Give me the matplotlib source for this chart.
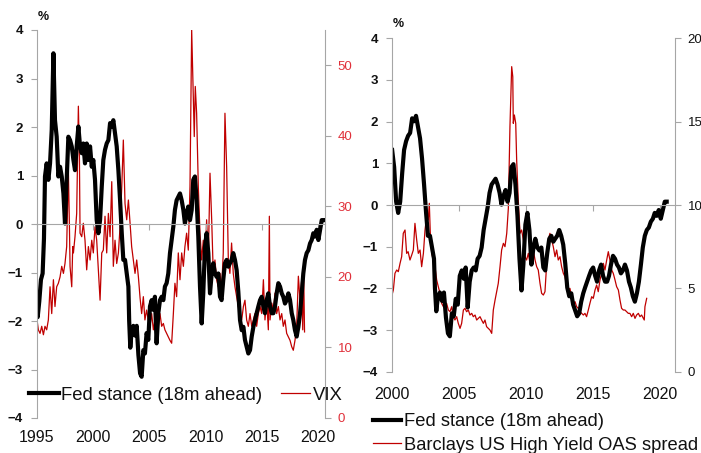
import matplotlib
matplotlib.use("Agg")
import matplotlib.pyplot as plt

plt.rcParams["font.family"] = ["Liberation Sans", "DejaVu Sans"]

# Fed stance (18m ahead), % -- shared by both panels
fed_years = [
    1995.00, 1995.06, 1995.20, 1995.35, 1995.50, 1995.62, 1995.71, 1995.86, 1996.01, 1996.16,
    1996.31, 1996.46, 1996.60, 1996.75, 1996.90, 1997.05, 1997.20, 1997.35, 1997.49, 1997.64,
    1997.79, 1997.94, 1998.09, 1998.24, 1998.38, 1998.53, 1998.68, 1998.83, 1998.98, 1999.12,
    1999.27, 1999.42, 1999.57, 1999.72, 1999.87, 2000.01, 2000.16, 2000.31, 2000.46, 2000.61,
    2000.76, 2000.90, 2001.05, 2001.20, 2001.35, 2001.50, 2001.65, 2001.79, 2001.94, 2002.09,
    2002.24, 2002.39, 2002.54, 2002.68, 2002.83, 2002.98, 2003.13, 2003.20, 2003.30, 2003.42,
    2003.57, 2003.72, 2003.87, 2004.02, 2004.17, 2004.31, 2004.46, 2004.60, 2004.75, 2004.90,
    2005.05, 2005.20, 2005.35, 2005.49, 2005.64, 2005.79, 2005.94, 2006.09, 2006.24, 2006.38,
    2006.53, 2006.68, 2006.83, 2006.98, 2007.13, 2007.27, 2007.42, 2007.57, 2007.72, 2007.87,
    2008.02, 2008.16, 2008.31, 2008.46, 2008.61, 2008.76, 2008.90, 2009.05, 2009.20, 2009.35,
    2009.50, 2009.65, 2009.79, 2009.94, 2010.09, 2010.24, 2010.39, 2010.54, 2010.68, 2010.83,
    2010.98, 2011.13, 2011.28, 2011.42, 2011.57, 2011.72, 2011.87, 2012.02, 2012.16, 2012.31,
    2012.46, 2012.61, 2012.76, 2012.91, 2013.06, 2013.21, 2013.36, 2013.50, 2013.65, 2013.80,
    2013.95, 2014.10, 2014.25, 2014.39, 2014.54, 2014.69, 2014.84, 2014.99, 2015.14, 2015.28,
    2015.43, 2015.58, 2015.73, 2015.88, 2016.03, 2016.17, 2016.32, 2016.47, 2016.62, 2016.77,
    2016.91, 2017.06, 2017.21, 2017.36, 2017.51, 2017.66, 2017.80, 2017.95, 2018.10, 2018.25,
    2018.40, 2018.55, 2018.69, 2018.84, 2018.99, 2019.14, 2019.29, 2019.44, 2019.58, 2019.73,
    2019.88, 2020.03, 2020.18, 2020.33, 2020.47,
]
fed_vals = [
    -1.50, -1.92, -1.60, -1.15, -1.02, -0.30, 0.98, 1.25, 0.91, 1.25,
    1.94, 3.52, 2.14, 1.80, 0.98, 1.18, 0.98, 0.63, 0.01, 0.91,
    1.80, 1.73, 1.60, 1.32, 1.11, 1.60, 2.01, 1.60, 1.46, 1.66,
    1.25, 1.66, 1.32, 1.60, 1.18, 1.32, 0.91, 0.08, -0.19, 0.08,
    0.77, 1.32, 1.53, 1.66, 1.73, 2.08, 2.01, 2.14, 1.87, 1.60,
    1.11, 0.49, -0.19, -0.74, -0.74, -1.02, -1.29, -2.00, -2.55, -2.20,
    -2.10, -2.30, -2.10, -2.70, -3.08, -3.15, -2.60, -2.67, -2.25, -2.39,
    -1.70, -1.57, -1.77, -1.50, -2.46, -1.84, -1.57, -1.50, -1.57, -1.29,
    -1.22, -1.02, -0.60, -0.33, -0.05, 0.29, 0.49, 0.56, 0.63, 0.49,
    0.29, 0.01, 0.22, 0.36, 0.08, 0.29, 0.91, 0.98, 0.49, -0.26,
    -1.29, -2.05, -1.43, -0.47, -0.19, -0.60, -1.43, -1.02, -0.81, -1.02,
    -1.09, -1.02, -1.50, -1.57, -1.15, -0.81, -0.74, -0.88, -0.81, -0.74,
    -0.60, -0.74, -0.95, -1.40, -1.98, -2.19, -2.12, -2.39, -2.53, -2.67,
    -2.60, -2.32, -2.12, -1.98, -1.84, -1.70, -1.57, -1.50, -1.70, -1.84,
    -1.57, -1.43, -1.70, -1.84, -1.84, -1.70, -1.43, -1.22, -1.29, -1.43,
    -1.50, -1.64, -1.57, -1.43, -1.57, -1.84, -1.98, -2.19, -2.32, -2.12,
    -1.84, -1.43, -1.02, -0.74, -0.60, -0.54, -0.40, -0.33, -0.19, -0.26,
    -0.12, -0.33, -0.12, 0.08, 0.08,
]

# VIX (right axis, left panel)
vix_years = [
    1995.00, 1995.12, 1995.27, 1995.42, 1995.57, 1995.71, 1995.86, 1996.01, 1996.16, 1996.31,
    1996.46, 1996.60, 1996.75, 1996.90, 1997.05, 1997.20, 1997.35, 1997.49, 1997.64, 1997.79,
    1997.88, 1997.94, 1998.09, 1998.18, 1998.24, 1998.38, 1998.53, 1998.68, 1998.77, 1998.83,
    1998.98, 1999.12, 1999.27, 1999.42, 1999.57, 1999.72, 1999.87, 2000.01, 2000.16, 2000.31,
    2000.46, 2000.61, 2000.76, 2000.90, 2001.05, 2001.20, 2001.35, 2001.50, 2001.65, 2001.79,
    2001.94, 2002.09, 2002.24, 2002.39, 2002.54, 2002.68, 2002.83, 2002.98, 2003.13, 2003.28,
    2003.42, 2003.57, 2003.72, 2003.87, 2004.02, 2004.17, 2004.31, 2004.46, 2004.60, 2004.75,
    2004.90, 2005.05, 2005.20, 2005.35, 2005.49, 2005.64, 2005.79, 2005.94, 2006.09, 2006.24,
    2006.38, 2006.53, 2006.68, 2006.83, 2006.98, 2007.13, 2007.27, 2007.42, 2007.57, 2007.72,
    2007.87, 2008.02, 2008.16, 2008.31, 2008.46, 2008.61, 2008.76, 2008.90, 2008.99, 2009.08,
    2009.20, 2009.35, 2009.50, 2009.65, 2009.79, 2009.94, 2010.09, 2010.24, 2010.39, 2010.54,
    2010.68, 2010.83, 2010.98, 2011.13, 2011.28, 2011.42, 2011.57, 2011.72, 2011.87, 2012.02,
    2012.16, 2012.31, 2012.46, 2012.61, 2012.76, 2012.91, 2013.06, 2013.21, 2013.36, 2013.50,
    2013.65, 2013.80, 2013.95, 2014.10, 2014.25, 2014.39, 2014.54, 2014.69, 2014.84, 2014.99,
    2015.14, 2015.28, 2015.43, 2015.58, 2015.67, 2015.73, 2015.88, 2016.03, 2016.17, 2016.32,
    2016.47, 2016.62, 2016.77, 2016.91, 2017.06, 2017.21, 2017.36, 2017.51, 2017.66, 2017.80,
    2017.95, 2018.10, 2018.25, 2018.40, 2018.55, 2018.64, 2018.72, 2018.80,
]
vix_vals = [
    13.9, 12.5, 12.0, 13.0, 11.8, 13.0, 12.5, 13.9, 18.6, 14.8,
    19.6, 15.8, 18.6, 19.1, 20.0, 21.5, 20.5, 21.9, 24.3, 35.2,
    27.6, 21.5, 18.6, 24.3, 23.4, 25.7, 29.0, 44.2, 37.5, 26.2,
    25.7, 27.6, 25.2, 21.0, 24.3, 22.4, 25.2, 23.4, 27.1, 25.2,
    21.0, 16.7, 23.4, 23.8, 28.6, 23.4, 29.0, 25.7, 33.5, 21.5,
    25.2, 21.9, 23.4, 27.1, 32.8, 39.4, 30.4, 28.1, 30.9, 27.6,
    24.3, 22.4, 20.5, 22.4, 20.0, 17.0, 14.8, 17.2, 13.9, 15.3,
    13.9, 13.0, 14.8, 12.5, 13.9, 12.0, 13.0, 14.8, 13.0, 13.4,
    12.5, 12.0, 11.5, 11.0, 10.6, 14.8, 19.1, 17.2, 23.4, 19.6,
    23.4, 21.5, 24.3, 26.2, 23.8, 32.8, 55.0, 46.1, 39.9, 47.0,
    43.2, 32.8, 26.2, 22.4, 25.2, 21.5, 28.1, 22.4, 34.7, 28.1,
    20.5, 22.4, 19.6, 18.6, 20.5, 18.1, 23.4, 43.2, 35.6, 22.4,
    20.5, 24.8, 20.5, 18.6, 17.2, 15.8, 14.8, 13.9, 15.8, 16.7,
    13.9, 13.0, 14.8, 13.0, 13.9, 14.8, 13.0, 14.8, 15.8, 14.8,
    19.6, 13.9, 16.7, 12.5, 28.6, 13.9, 16.3, 15.3, 17.7, 14.8,
    15.8, 13.9, 14.8, 13.0, 13.9, 12.0, 11.5, 11.0, 10.1, 9.6,
    11.0, 13.0, 20.1, 16.7, 19.6, 12.5, 21.0, 12.2,
]

# Barclays US High Yield OAS spread (right axis, right panel)
hy_years = [
    2000.00, 2000.10, 2000.22, 2000.35, 2000.47, 2000.60, 2000.72, 2000.84, 2000.97, 2001.09,
    2001.20, 2001.34, 2001.47, 2001.59, 2001.71, 2001.84, 2001.96, 2002.09, 2002.21, 2002.34,
    2002.46, 2002.58, 2002.70, 2002.78, 2002.85, 2002.96, 2003.08, 2003.20, 2003.33, 2003.45,
    2003.58, 2003.70, 2003.83, 2003.95, 2004.07, 2004.20, 2004.32, 2004.45, 2004.57, 2004.69,
    2004.82, 2004.94, 2005.07, 2005.19, 2005.32, 2005.44, 2005.56, 2005.69, 2005.81, 2005.94,
    2006.06, 2006.19, 2006.31, 2006.43, 2006.56, 2006.68, 2006.81, 2006.93, 2007.05, 2007.18,
    2007.30, 2007.43, 2007.55, 2007.68, 2007.80, 2007.92, 2008.05, 2008.17, 2008.30, 2008.42,
    2008.55, 2008.67, 2008.79, 2008.92, 2009.00, 2009.04, 2009.12, 2009.22, 2009.29, 2009.41,
    2009.54, 2009.66, 2009.79, 2009.91, 2010.03, 2010.16, 2010.28, 2010.41, 2010.53, 2010.66,
    2010.78, 2010.90, 2011.03, 2011.15, 2011.28, 2011.40, 2011.53, 2011.65, 2011.77, 2011.90,
    2012.02, 2012.15, 2012.27, 2012.39, 2012.52, 2012.64, 2012.77, 2012.89, 2013.02, 2013.14,
    2013.26, 2013.39, 2013.51, 2013.64, 2013.76, 2013.88, 2014.01, 2014.13, 2014.26, 2014.38,
    2014.50, 2014.63, 2014.75, 2014.88, 2015.00, 2015.13, 2015.25, 2015.37, 2015.50, 2015.62,
    2015.75, 2015.87, 2016.00, 2016.12, 2016.24, 2016.37, 2016.49, 2016.62, 2016.74, 2016.87,
    2016.99, 2017.11, 2017.24, 2017.36, 2017.49, 2017.61, 2017.73, 2017.86, 2017.98, 2018.11,
    2018.23, 2018.36, 2018.48, 2018.60, 2018.73, 2018.80, 2018.85, 2018.98,
]
hy_vals = [
    4.6, 4.9, 5.9, 6.1, 6.0, 6.5, 6.9, 8.3, 8.5, 7.1,
    7.2, 6.7, 7.0, 7.3, 8.9, 7.9, 7.1, 7.3, 6.3, 7.1,
    8.5, 9.3, 9.1, 10.1, 8.4, 7.1, 6.7, 6.3, 5.5, 5.1,
    4.7, 4.1, 3.9, 3.8, 4.1, 3.7, 3.6, 3.9, 3.3, 3.1,
    3.3, 2.9, 2.6, 2.9, 3.7, 3.8, 3.6, 3.7, 3.4, 3.5,
    3.3, 3.4, 3.1, 3.2, 3.3, 3.1, 2.9, 3.1, 2.7, 2.6,
    2.5, 2.3, 3.7, 4.3, 4.8, 5.3, 6.3, 7.3, 7.7, 7.5,
    8.3, 9.8, 14.7, 18.3, 17.7, 14.9, 15.4, 14.9, 12.7, 10.3,
    8.3, 8.5, 7.9, 6.9, 6.7, 7.1, 6.5, 6.9, 7.3, 6.7,
    6.3, 6.1, 5.3, 4.7, 4.6, 4.8, 6.5, 7.9, 8.3, 7.9,
    7.5, 6.9, 7.3, 6.7, 6.9, 6.3, 5.9, 5.7, 5.1, 4.9,
    5.0, 4.5, 4.1, 4.2, 3.9, 3.8, 3.6, 3.5, 3.4, 3.5,
    3.3, 3.7, 4.1, 4.5, 4.4, 4.9, 5.2, 4.8, 5.5, 5.9,
    6.5, 6.1, 6.7, 7.2, 6.7, 6.1, 5.9, 5.5, 5.1, 4.9,
    4.3, 3.8, 3.7, 3.7, 3.6, 3.5, 3.5, 3.3, 3.5, 3.2,
    3.4, 3.5, 3.3, 3.4, 3.2, 3.1, 3.9, 4.4,
]

left_xticks = [1995, 2000, 2005, 2010, 2015, 2020]
right_xticks = [2000, 2005, 2010, 2015, 2020]

GREY = "#a6a6a6"
RED = "#c00000"
RED_TXT = "#e0303a"
TXT = "#111111"

fig = plt.figure(figsize=(7.01, 4.53), dpi=100)


def style_panel(ax, ax2, xticks, xpad):
    for s in ["top", "right"]:
        ax.spines[s].set_visible(False)
    for s in ["top", "left", "bottom"]:
        ax2.spines[s].set_visible(False)
    ax.spines["left"].set_color(GREY)
    ax2.spines["right"].set_color(GREY)
    # zero line with the year ticks on it
    ax.spines["bottom"].set_position(("data", 0))
    ax.spines["bottom"].set_color(GREY)
    ax.set_xticks(xticks)
    ax.tick_params(axis="x", colors=GREY, length=4, direction="out", labelbottom=False)
    ax.tick_params(axis="y", colors=GREY, length=4, direction="out", pad=6,
                   labelcolor=TXT, labelsize=9.5)
    for lab in ax.get_yticklabels():
        lab.set_fontweight("bold")
    ax2.tick_params(axis="y", colors=GREY, length=4, direction="out", pad=5, labelsize=9.5)
    # year labels below the plot
    sec = ax.secondary_xaxis(0.0)
    sec.set_xticks(xticks)
    sec.spines["bottom"].set_visible(False)
    sec.tick_params(length=0, pad=xpad, labelsize=11.5, labelcolor=TXT)
    ax.set_zorder(ax2.get_zorder() + 1)
    ax.patch.set_visible(False)


# ---- left panel: Fed stance vs VIX
axl = fig.add_axes([37 / 701, 1 - 418 / 453, 288 / 701, 388 / 453])
axl2 = axl.twinx()
axl2.plot(vix_years, vix_vals, color=RED, lw=0.9)
axl.plot(fed_years, fed_vals, color="black", lw=3.0)
axl.set_xlim(1995, 2020.62)
axl.set_ylim(-4, 4)
axl.set_yticks(range(-4, 5))
axl2.set_ylim(0, 55)
axl2.set_yticks(range(0, 51, 10))
style_panel(axl, axl2, left_xticks, 9)
axl2.tick_params(axis="y", labelcolor=RED_TXT)
fig.text(43 / 701, 1 - 17 / 453, "%", fontsize=9, fontweight="bold", color=TXT,
         ha="center", va="center")

# ---- right panel: Fed stance vs HY spread
fed_r_years = [y for y in fed_years if y >= 2000]
fed_r_vals = [v for y, v in zip(fed_years, fed_vals) if y >= 2000]
axr = fig.add_axes([392 / 701, 1 - 371.7 / 453, 283 / 701, 333.4 / 453])
axr2 = axr.twinx()
axr2.plot(hy_years, hy_vals, color=RED, lw=0.9)
axr.plot(fed_r_years, fed_r_vals, color="black", lw=3.0)
axr.set_xlim(2000, 2021.09)
axr.set_ylim(-4, 4)
axr.set_yticks(range(-4, 5))
axr2.set_ylim(0, 20)
axr2.set_yticks(range(0, 21, 5))
style_panel(axr, axr2, right_xticks, 11)
axr2.tick_params(axis="y", labelcolor=TXT)
fig.text(398 / 701, 1 - 24 / 453, "%", fontsize=9, fontweight="bold", color=TXT,
         ha="center", va="center")

# ---- legends
h_fed = plt.Line2D([], [], color="black", lw=3.0)
h_red = plt.Line2D([], [], color=RED, lw=0.9)
fig.legend([h_fed, h_red], ["Fed stance (18m ahead)", "VIX"], ncol=2,
           loc="center left", bbox_to_anchor=(29 / 701, 1 - 395 / 453),
           frameon=False, fontsize=13.3, handlelength=1.6, handletextpad=0.15,
           columnspacing=1.0, borderpad=0, borderaxespad=0, labelcolor=TXT)
fig.legend([h_fed, h_red], ["Fed stance (18m ahead)", "Barclays US High Yield OAS spread"],
           ncol=1, loc="upper left", bbox_to_anchor=(373 / 701, 1 - 413 / 453),
           frameon=False, fontsize=13.2, handlelength=1.55, handletextpad=0.15,
           labelspacing=0.36, borderpad=0, borderaxespad=0, labelcolor=TXT)

fig.savefig("out.png", dpi=100)
